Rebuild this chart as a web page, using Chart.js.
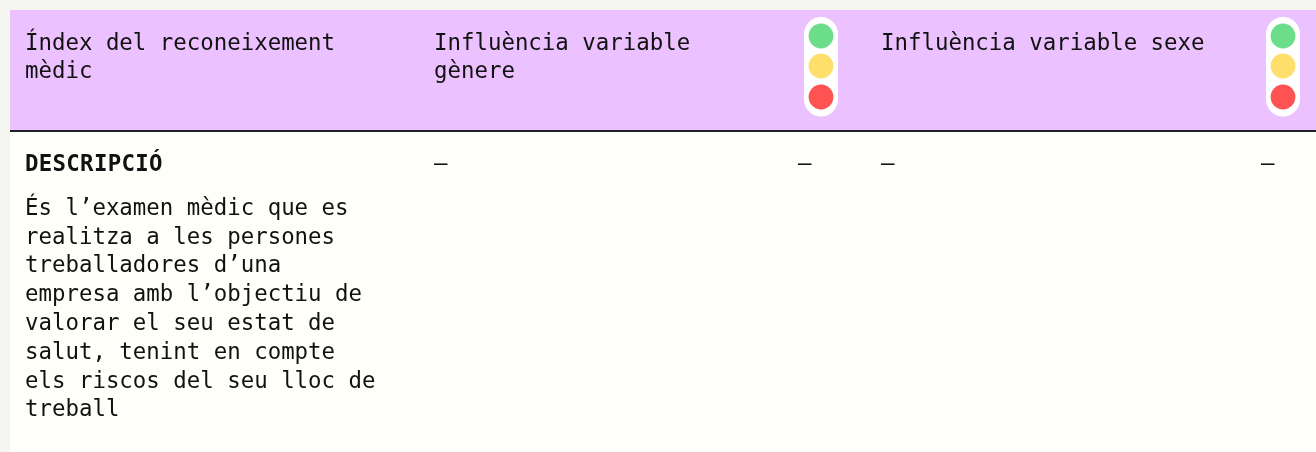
<!DOCTYPE html>
<html lang="ca">
<head>
<meta charset="utf-8">
<title>Índex del reconeixement mèdic</title>
<style>
  html, body { margin: 0; padding: 0; background: #f5f6f1; overflow: hidden; }
  canvas { display: block; }
</style>
<script src="https://cdn.jsdelivr.net/npm/chart.js@4/dist/chart.umd.min.js"></script>
</head>
<body>
<canvas id="taula" width="1316" height="452"></canvas>
<script>
// Table contents
const headers = [
  { x: 25, lines: ["Índex del reconeixement", "mèdic"] },
  { x: 434, lines: ["Influència variable", "gènere"] },
  { x: 881, lines: ["Influència variable sexe"] },
];
const headerLineY = [44, 72];
const descTitle = "DESCRIPCIÓ";
const descTitleY = 165;
const descLines = [
  "És l’examen mèdic que es",
  "realitza a les persones",
  "treballadores d’una",
  "empresa amb l’objectiu de",
  "valorar el seu estat de",
  "salut, tenint en compte",
  "els riscos del seu lloc de",
  "treball",
];
const descLineY = [209, 238, 266, 295, 324, 353, 382, 410];
const dashX = [434, 798, 881, 1261];

// Traffic lights
const lightX = [821, 1283];
const lightY = [36, 66, 97];
const pillY = [34, 99.5];
const lightColors = ["#6bdd8b", "#ffdf6b", "#ff5252"];

const FONT = '"DejaVu Sans Mono", monospace';

function drawText(ctx, txt, x, y, font) {
  ctx.font = font;
  ctx.fillText(txt, x, y);
}

const tablePlugin = {
  id: "tablePlugin",
  beforeDatasetsDraw(chart) {
    const { ctx } = chart;
    const px = (v) => chart.scales.x.getPixelForValue(v);
    const py = (v) => chart.scales.y.getPixelForValue(v);
    ctx.save();
    ctx.fillStyle = "#ecc1ff";
    ctx.fillRect(px(10), py(10), px(1316) - px(10), py(130) - py(10));
    ctx.fillStyle = "#fffffa";
    ctx.fillRect(px(10), py(132), px(1316) - px(10), py(452) - py(132));
    ctx.fillStyle = "#222028";
    ctx.fillRect(px(10), py(130), px(1316) - px(10), 2);
    ctx.restore();
  },
  afterDatasetsDraw(chart) {
    const { ctx } = chart;
    const px = (v) => chart.scales.x.getPixelForValue(v);
    const py = (v) => chart.scales.y.getPixelForValue(v);
    ctx.save();
    ctx.fillStyle = "#111111";
    ctx.textBaseline = "middle";
    ctx.textAlign = "left";
    const regular = `22.4px ${FONT}`;
    headers.forEach((h) => {
      h.lines.forEach((line, i) => drawText(ctx, line, px(h.x), py(headerLineY[i]), regular));
    });
    // the bold line runs a bit wider than the regular one
    ctx.letterSpacing = "0.3px";
    drawText(ctx, descTitle, px(25), py(descTitleY), `bold 22.4px ${FONT}`);
    ctx.letterSpacing = "0px";
    descLines.forEach((line, i) => drawText(ctx, line, px(25), py(descLineY[i]), regular));
    dashX.forEach((x) => drawText(ctx, "–", px(x), py(descTitleY), regular));
    ctx.restore();
  },
};

// white pill behind each light, one line per column
const pillDatasets = lightX.map((x) => ({
  type: "line",
  data: [{ x: x, y: pillY[0] }, { x: x, y: pillY[1] }],
  borderColor: "#ffffff",
  borderWidth: 34,
  borderCapStyle: "round",
  pointRadius: 0,
  order: 2,
}));

const lightDatasets = lightColors.map((color, i) => ({
  type: "scatter",
  data: lightX.map((x) => ({ x: x, y: lightY[i] })),
  backgroundColor: color,
  borderWidth: 0,
  pointRadius: 12.4,
  order: 1,
}));

new Chart(document.getElementById("taula"), {
  data: { datasets: [...pillDatasets, ...lightDatasets] },
  options: {
    responsive: false,
    animation: false,
    events: [],
    layout: { padding: 0, autoPadding: false },
    plugins: { legend: { display: false }, tooltip: { enabled: false } },
    scales: {
      x: { type: "linear", display: false, min: 0, max: 1316 },
      y: { type: "linear", display: false, min: 0, max: 452, reverse: true },
    },
  },
  plugins: [tablePlugin],
});
</script>
</body>
</html>
